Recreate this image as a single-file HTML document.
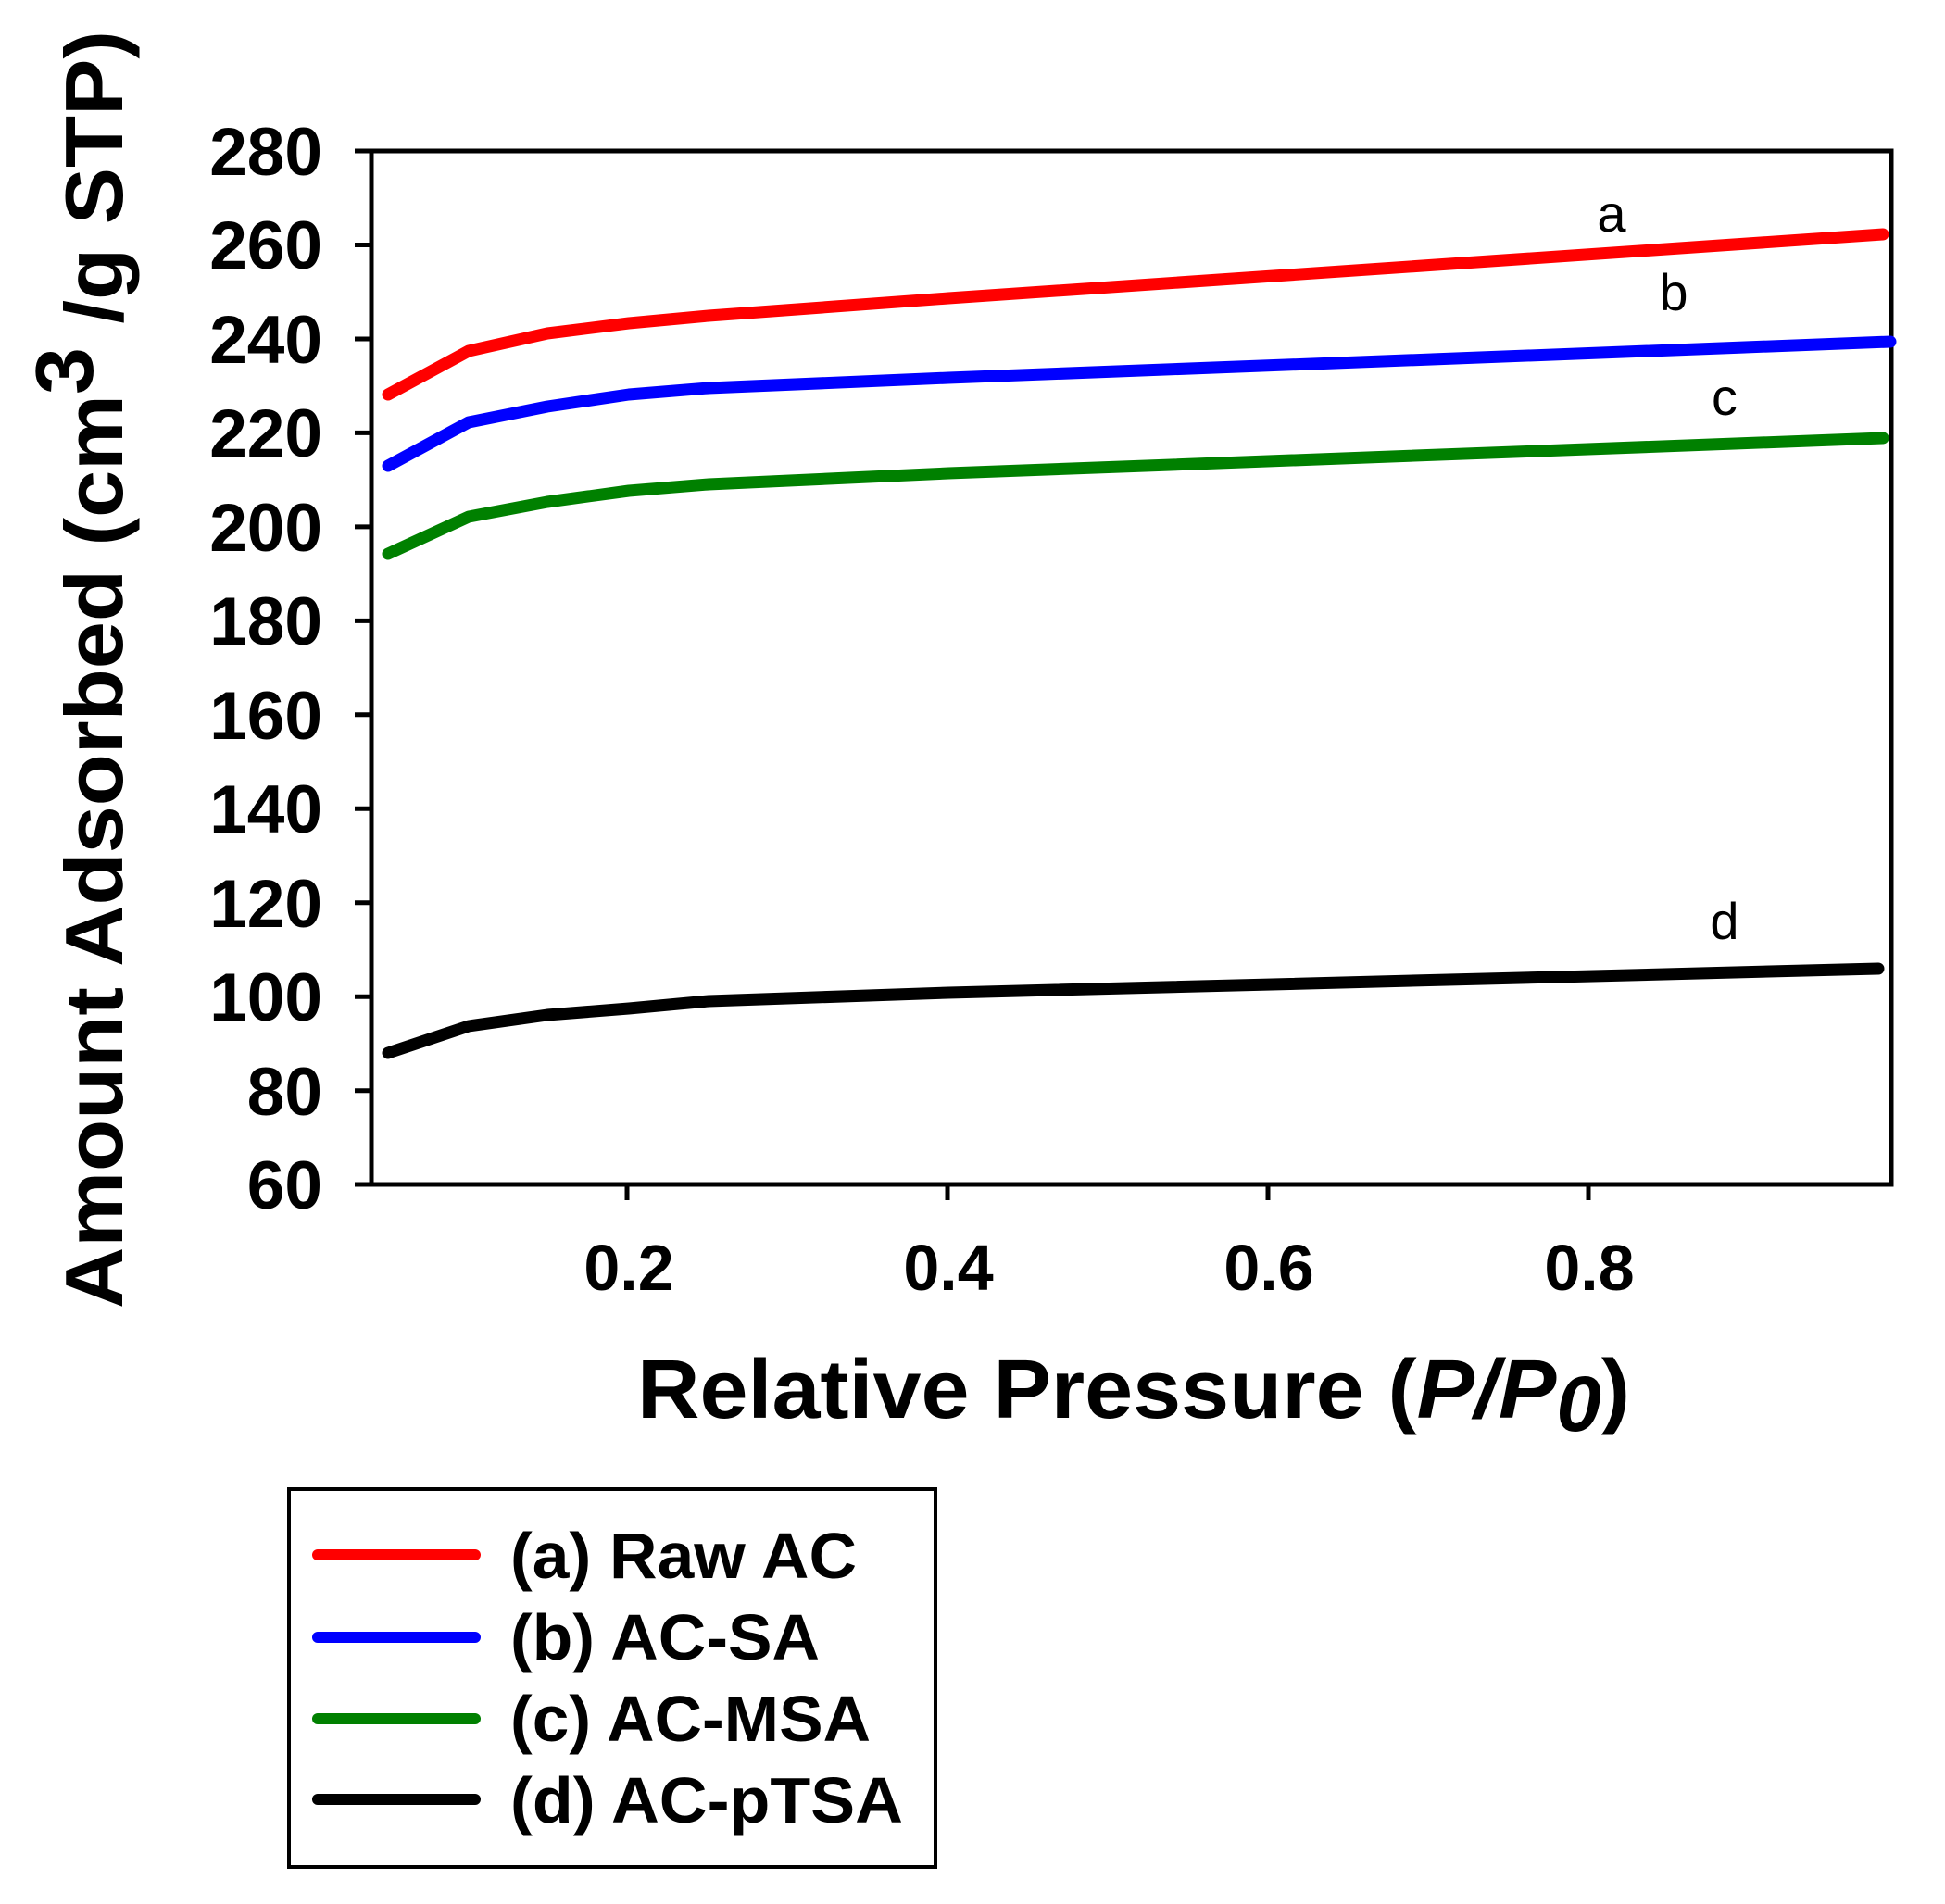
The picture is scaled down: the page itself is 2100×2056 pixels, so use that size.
<!DOCTYPE html>
<html><head><style>html,body{margin:0;padding:0;background:#fff}svg{display:block}</style></head>
<body>
<svg width="2100" height="2056" viewBox="0 0 2100 2056" xmlns="http://www.w3.org/2000/svg" font-family="Liberation Sans, Arial, sans-serif">
<rect width="2100" height="2056" fill="#fff"/>
<rect x="401" y="163" width="1641" height="1116" fill="none" stroke="#000" stroke-width="5"/>
<g stroke="#000" stroke-width="5">
<line x1="383" y1="163" x2="401" y2="163"/><line x1="383" y1="264.5" x2="401" y2="264.5"/>
<line x1="383" y1="366" x2="401" y2="366"/><line x1="383" y1="467.4" x2="401" y2="467.4"/>
<line x1="383" y1="568.9" x2="401" y2="568.9"/><line x1="383" y1="670.4" x2="401" y2="670.4"/>
<line x1="383" y1="771.8" x2="401" y2="771.8"/><line x1="383" y1="873.3" x2="401" y2="873.3"/>
<line x1="383" y1="974.8" x2="401" y2="974.8"/><line x1="383" y1="1076.2" x2="401" y2="1076.2"/>
<line x1="383" y1="1177.7" x2="401" y2="1177.7"/><line x1="383" y1="1279" x2="401" y2="1279"/>
<line x1="677" y1="1279" x2="677" y2="1296"/><line x1="1023" y1="1279" x2="1023" y2="1296"/>
<line x1="1369" y1="1279" x2="1369" y2="1296"/><line x1="1715" y1="1279" x2="1715" y2="1296"/>
</g>
<g font-size="73" font-weight="bold" text-anchor="end">
<text x="348" y="189">280</text><text x="348" y="290">260</text><text x="348" y="392">240</text>
<text x="348" y="493">220</text><text x="348" y="595">200</text><text x="348" y="696">180</text>
<text x="348" y="798">160</text><text x="348" y="899">140</text><text x="348" y="1001">120</text>
<text x="348" y="1102">100</text><text x="348" y="1204">80</text><text x="348" y="1305">60</text>
</g>
<g font-size="70" font-weight="bold" text-anchor="middle">
<text x="679" y="1393">0.2</text><text x="1024" y="1393">0.4</text>
<text x="1370" y="1393">0.6</text><text x="1716" y="1393">0.8</text>
</g>
<text x="688" y="1531" font-size="90" font-weight="bold" textLength="1072" lengthAdjust="spacingAndGlyphs">Relative Pressure (<tspan font-style="italic">P/P<tspan font-size="84" dy="14">0</tspan></tspan><tspan dy="-14">)</tspan></text>
<text transform="translate(132,1413) rotate(-90)" font-size="88" font-weight="bold" textLength="1380" lengthAdjust="spacingAndGlyphs">Amount Adsorbed (cm<tspan dy="-32">3</tspan><tspan dy="32"> /g STP)</tspan></text>
<g fill="none" stroke-width="13" stroke-linecap="round" stroke-linejoin="round">
<polyline stroke="#ff0000" points="419,426 506,379 591,360 679,349 765,341 1024,322 2033,253"/>
<polyline stroke="#0000ff" points="419,503 506,456 591,439 679,426 765,419 1024,408 2041,369"/>
<polyline stroke="#008000" points="419,598 506,558 591,542 679,530 765,523 1024,511 2033,473"/>
<polyline stroke="#000000" points="419,1137 506,1108 591,1096 679,1089 765,1081 1024,1072 2028,1046"/>
</g>
<g font-size="56" text-anchor="middle">
<text x="1740" y="250">a</text><text x="1807" y="335">b</text>
<text x="1862" y="448">c</text><text x="1862" y="1014">d</text>
</g>
<rect x="312" y="1608" width="698" height="408" fill="none" stroke="#000" stroke-width="4"/>
<g stroke-width="12" stroke-linecap="round">
<line x1="343" y1="1679" x2="513" y2="1679" stroke="#ff0000"/>
<line x1="343" y1="1768" x2="513" y2="1768" stroke="#0000ff"/>
<line x1="343" y1="1856" x2="513" y2="1856" stroke="#008000"/>
<line x1="343" y1="1943" x2="513" y2="1943" stroke="#000"/>
</g>
<g font-size="70" font-weight="bold">
<text x="551" y="1704" textLength="374" lengthAdjust="spacingAndGlyphs">(a) Raw AC</text>
<text x="551" y="1792" textLength="334" lengthAdjust="spacingAndGlyphs">(b) AC-SA</text>
<text x="551" y="1880" textLength="389" lengthAdjust="spacingAndGlyphs">(c) AC-MSA</text>
<text x="551" y="1968" textLength="424" lengthAdjust="spacingAndGlyphs">(d) AC-pTSA</text>
</g>
</svg>
</body></html>
